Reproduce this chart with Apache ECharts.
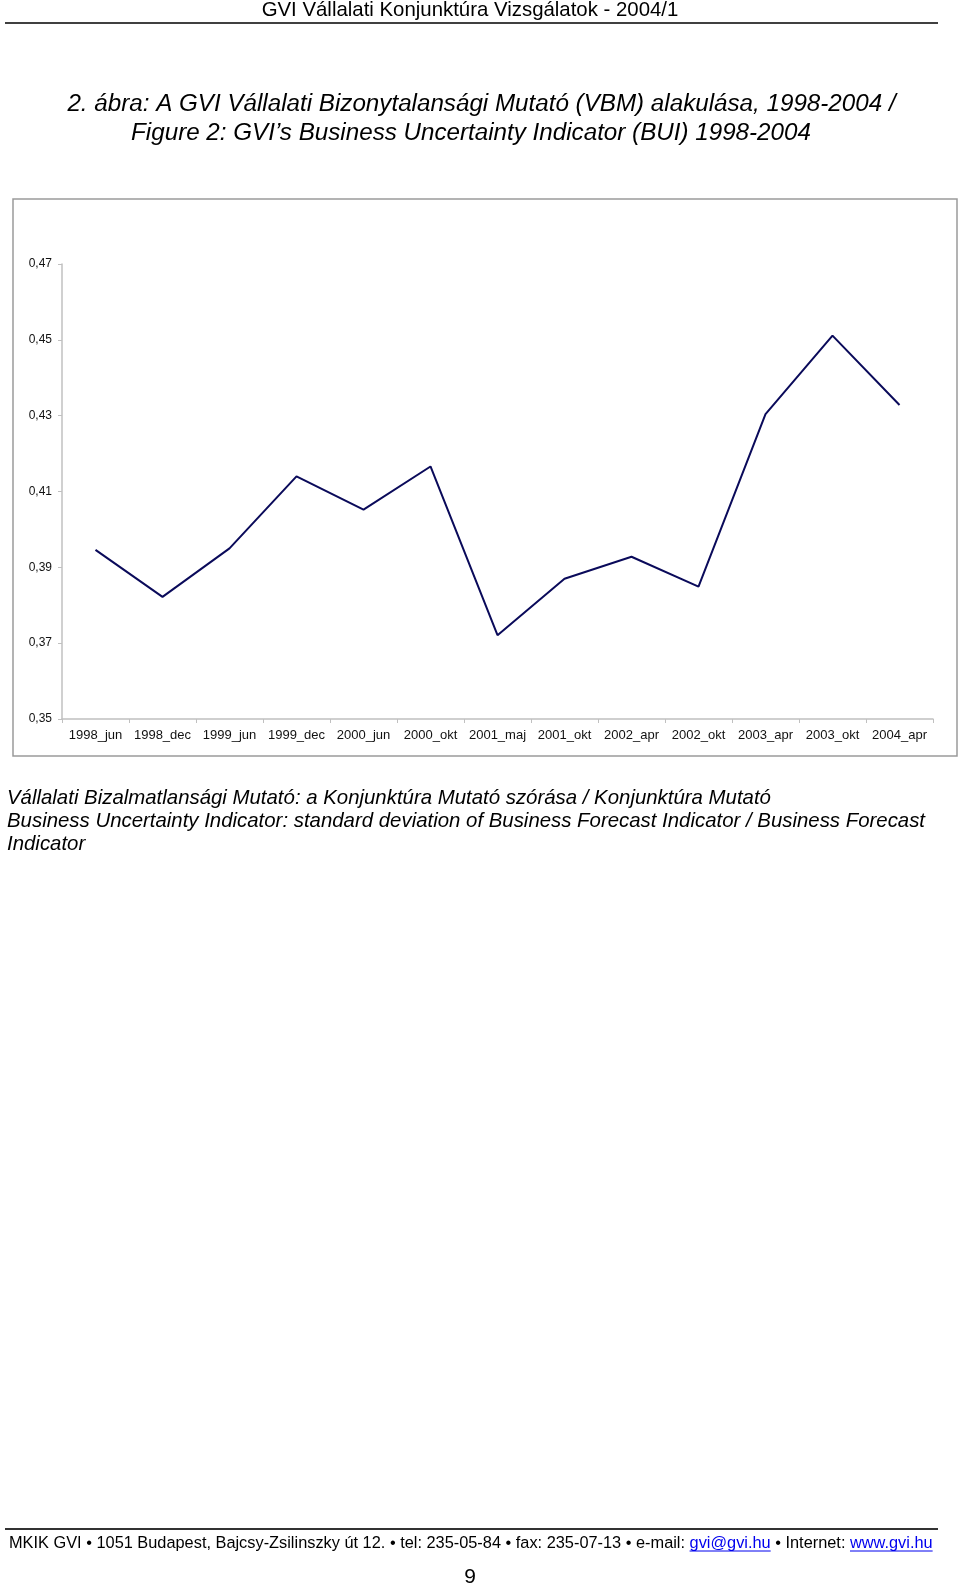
<!DOCTYPE html>
<html>
<head>
<meta charset="utf-8">
<script src="https://cdn.jsdelivr.net/npm/echarts@6/dist/echarts.min.js"></script>
<style>
html,body{margin:0;padding:0;background:#fff;}
#c{width:960px;height:1587px;}
</style>
</head>
<body>
<div id="c"></div>
<script>
// ---- data ----
var categories = ['1998_jun','1998_dec','1999_jun','1999_dec','2000_jun','2000_okt','2001_maj','2001_okt','2002_apr','2002_okt','2003_apr','2003_okt','2004_apr'];
var vbmValues = [0.3946, 0.3822, 0.3950, 0.4140, 0.4052, 0.4166, 0.3721, 0.3870, 0.3928, 0.3849, 0.4304, 0.4511, 0.4328];
var yMin = 0.35, yMax = 0.47, yStep = 0.02;

var headerText = 'GVI Vállalati Konjunktúra Vizsgálatok - 2004/1';
var titleLine1 = '2. ábra: A GVI Vállalati Bizonytalansági Mutató (VBM) alakulása, 1998-2004 /';
var titleLine2 = 'Figure 2: GVI’s Business Uncertainty Indicator (BUI) 1998-2004';
var noteLines = [
  'Vállalati Bizalmatlansági Mutató: a Konjunktúra Mutató szórása / Konjunktúra Mutató',
  'Business Uncertainty Indicator: standard deviation of Business Forecast Indicator / Business Forecast',
  'Indicator'
];
var footerParts = ['MKIK GVI • 1051 Budapest, Bajcsy-Zsilinszky út 12. • tel: 235-05-84 • fax: 235-07-13 • e-mail: ', 'gvi@gvi.hu', ' • Internet: ', 'www.gvi.hu'];
var pageNumber = '9';

var FAM = '"Liberation Sans", Arial, Helvetica, sans-serif';
var cv = document.createElement('canvas').getContext('2d');
function tw(t, font){ cv.font = font; return cv.measureText(t).width; }

var footFont = '16.35px ' + FAM;
var fx = 9, fy = 1543;
var w0 = tw(footerParts[0], footFont), w1 = tw(footerParts[1], footFont), w2 = tw(footerParts[2], footFont), w3 = tw(footerParts[3], footFont);
var noteFont = 'italic 20.4px ' + FAM;
var titleFont = 'italic 24.2px ' + FAM;

var chart = echarts.init(document.getElementById('c'), null, {renderer:'canvas'});
var graphics = [
  {type:'text', x:470, y:10, style:{text:headerText, font:'20.4px ' + FAM, fill:'#000', align:'center', verticalAlign:'middle'}},
  {type:'line', shape:{x1:5, y1:23, x2:938, y2:23}, style:{stroke:'#000', lineWidth:1.5}},
  {type:'text', x:481.5, y:104.5, style:{text:titleLine1, font:titleFont, fill:'#000', align:'center', verticalAlign:'middle'}},
  {type:'text', x:471, y:133.5, style:{text:titleLine2, font:titleFont, fill:'#000', align:'center', verticalAlign:'middle'}},
  {type:'rect', shape:{x:13, y:199, width:944, height:557}, style:{fill:'none', stroke:'#9a9a9a', lineWidth:1.5}},
  {type:'text', x:7, y:798, style:{text:noteLines[0], font:noteFont, fill:'#000', align:'left', verticalAlign:'middle'}},
  {type:'text', x:7, y:821, style:{text:noteLines[1], font:noteFont, fill:'#000', align:'left', verticalAlign:'middle'}},
  {type:'text', x:7, y:844, style:{text:noteLines[2], font:noteFont, fill:'#000', align:'left', verticalAlign:'middle'}},
  {type:'line', shape:{x1:5, y1:1529, x2:938, y2:1529}, style:{stroke:'#333', lineWidth:2}},
  {type:'text', x:fx, y:fy, style:{text:footerParts[0], font:footFont, fill:'#000', align:'left', verticalAlign:'middle'}},
  {type:'text', x:fx+w0, y:fy, style:{text:footerParts[1], font:footFont, fill:'#0000ee', align:'left', verticalAlign:'middle'}},
  {type:'line', shape:{x1:fx+w0, y1:fy+8, x2:fx+w0+w1, y2:fy+8}, style:{stroke:'#0000ee', lineWidth:1}},
  {type:'text', x:fx+w0+w1, y:fy, style:{text:footerParts[2], font:footFont, fill:'#000', align:'left', verticalAlign:'middle'}},
  {type:'text', x:fx+w0+w1+w2, y:fy, style:{text:footerParts[3], font:footFont, fill:'#0000ee', align:'left', verticalAlign:'middle'}},
  {type:'line', shape:{x1:fx+w0+w1+w2, y1:fy+8, x2:fx+w0+w1+w2+w3, y2:fy+8}, style:{stroke:'#0000ee', lineWidth:1}},
  {type:'text', x:470, y:1577, style:{text:pageNumber, font:'21px ' + FAM, fill:'#000', align:'center', verticalAlign:'middle'}}
];

chart.setOption({
  backgroundColor:'#fff',
  animation:false,
  grid:{left:62, right:27, top:264, bottom:868, containLabel:false, outerBoundsMode:'none'},
  xAxis:{
    type:'category', data:categories, boundaryGap:true,
    axisLine:{lineStyle:{color:'#c0c0c0', width:1.5}},
    axisTick:{show:true, inside:false, length:4, alignWithLabel:false, lineStyle:{color:'#c0c0c0'}},
    axisLabel:{color:'#111', fontSize:13, fontFamily:FAM, margin:10, interval:0}
  },
  yAxis:{
    type:'value', min:yMin, max:yMax, interval:yStep,
    axisLine:{show:true, lineStyle:{color:'#c0c0c0', width:1.5}},
    axisTick:{show:true, length:4, lineStyle:{color:'#c0c0c0'}},
    splitLine:{show:false},
    axisLabel:{color:'#111', fontSize:12, fontFamily:FAM, margin:10,
      formatter:function(v){ return v.toFixed(2).replace('.', ','); }}
  },
  series:[{
    type:'line', data:vbmValues, symbol:'none',
    lineStyle:{color:'#0a0a5a', width:2}, itemStyle:{color:'#0a0a5a'}
  }],
  graphic:graphics
});
</script>
</body>
</html>
